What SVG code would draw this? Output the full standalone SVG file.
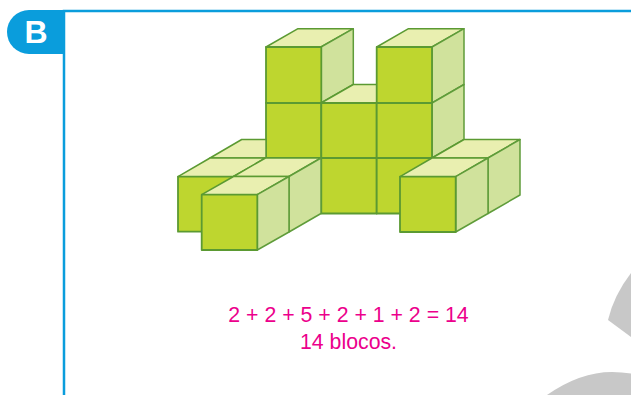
<svg xmlns="http://www.w3.org/2000/svg" width="631" height="395" viewBox="0 0 631 395">
<style>
.f{fill:#bed62f;stroke:#5b9a32;stroke-width:1.800;stroke-linejoin:round}
.t{fill:#e9efb0;stroke:#5b9a32;stroke-width:1.500;stroke-linejoin:round}
.s{fill:#d0e29c;stroke:#5f9c3a;stroke-width:1.500;stroke-linejoin:round}
.x{font-family:"Liberation Sans",Arial,sans-serif;font-size:21.300px;fill:#ec008c;text-anchor:middle}
</style>
<rect width="631" height="395" fill="#fff"/>
<g id="background-shapes" fill="#c8c8c8">
<path d="M608 320Q614 295 631 273V337Z"/>
<path d="M547 395Q580 372 612 372Q622 372 631 373.500V395Z"/>
</g>
<g id="frame">
<path d="M64 395V11H631" fill="none" stroke="#0a9ddc" stroke-width="2.500"/>
<path d="M65 10H29A22 22 0 0 0 29 54H65Z" fill="#0a9ddc"/>
<text x="36" y="43" font-family="'Liberation Sans',Arial,sans-serif" font-size="32" font-weight="700" fill="#fff" text-anchor="middle">B</text>
</g>
<g id="blocks">
<g id="tower-left">
<path class="t" d="M266 47L298 28.700H353.300L321 47Z"/>
<path class="s" d="M321 47L353.300 28.700V84.500L321 103Z"/>
<rect class="f" x="266" y="47" width="55.300" height="56"/>
</g>
<g id="tower-right">
<path class="t" d="M321 103L353.300 84.500H409L377 103Z"/>
<path class="t" d="M376.700 47L408.500 28.700H464L432 47Z"/>
<path class="s" d="M432 47L464 28.700V84.500L432 103Z"/>
<path class="s" d="M432 103L464 84.500V139.500L432 158Z"/>
<rect class="f" x="376.700" y="47" width="55.300" height="56"/>
</g>
<g id="middle-wall">
<rect class="f" x="266" y="103" width="55.300" height="55"/>
<rect class="f" x="321.300" y="103" width="55.400" height="55"/>
<rect class="f" x="376.700" y="103" width="55.300" height="55"/>
<rect class="f" x="321.300" y="158" width="55.400" height="55.500"/>
<rect class="f" x="376.700" y="158" width="55.300" height="55.500"/>
</g>
<g id="wing-left">
<path class="t" d="M210 158L241.700 139.500H266V158Z"/>
<path class="t" d="M178 176.700L210 158H265.500L233.500 176.500Z"/>
<rect class="f" x="178" y="176.700" width="55.500" height="55"/>
<path class="t" d="M233.500 176.500L265.500 158H321L289 176.500Z"/>
<path class="s" d="M289 176.500L321 158V213.500L289 232Z"/>
<path class="t" d="M201.700 194.700L233.500 176.500H289L257.300 194.700Z"/>
<path class="s" d="M257.300 194.700L289 176.500V232L257.300 250Z"/>
<rect class="f" x="201.700" y="194.700" width="55.600" height="55.300"/>
</g>
<g id="wing-right">
<path class="t" d="M432 158L464 139.500H520L488 158Z"/>
<path class="s" d="M488 158L520 139.500V195L488 213.500Z"/>
<path class="t" d="M400 176.700L432 158H488L455.700 176.700Z"/>
<path class="s" d="M455.700 176.700L488 158V213.500L455.700 232Z"/>
<rect class="f" x="400" y="176.700" width="55.700" height="55.300"/>
</g>
</g>
<g id="labels">
<text class="x" x="348.500" y="322.300">2 + 2 + 5 + 2 + 1 + 2 = 14</text>
<text class="x" x="348.500" y="349">14 blocos.</text>
</g>
</svg>
